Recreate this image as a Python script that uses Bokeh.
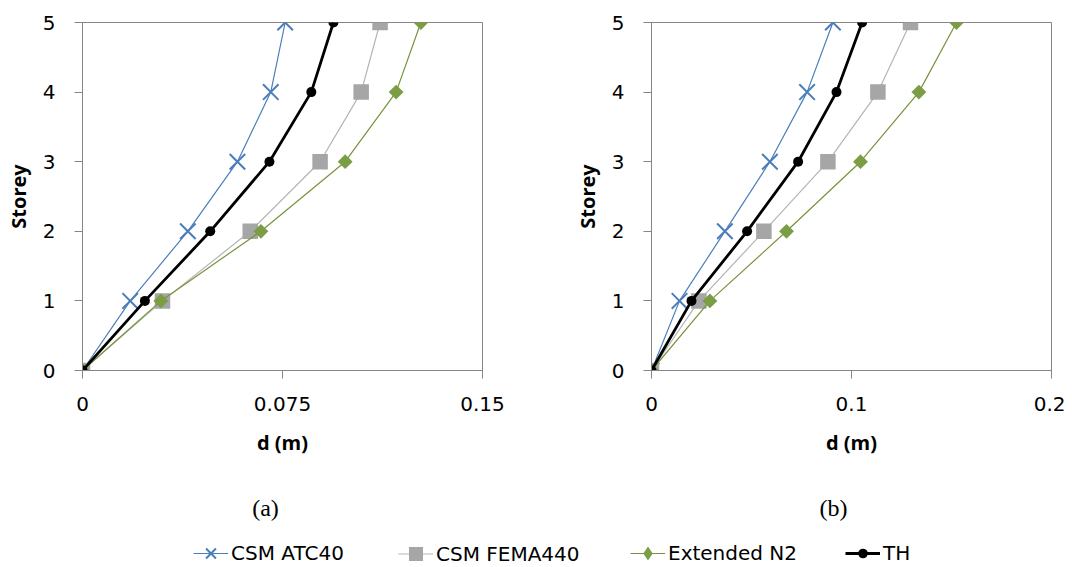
from bokeh.plotting import figure
from bokeh.models import Range1d, FixedTicker, CustomJSTickFormatter, Legend, LegendItem, Label
from bokeh.layouts import column, row
from bokeh.embed import file_html
from bokeh.resources import INLINE
import math

# ---------------- data ----------------
storeys = [0, 1, 2, 3, 4, 5]

a_atc40 = [0, 0.0179, 0.0395, 0.0581, 0.0706, 0.0760]
a_fema440 = [0, 0.0300, 0.0629, 0.0891, 0.1045, 0.1116]
a_n2 = [0, 0.0294, 0.0669, 0.0985, 0.1176, 0.1269]
a_th = [0, 0.0234, 0.0479, 0.0701, 0.0858, 0.0941]

b_atc40 = [0, 0.0140, 0.0367, 0.0592, 0.0778, 0.0907]
b_fema440 = [0, 0.0237, 0.0562, 0.0882, 0.1132, 0.1295]
b_n2 = [0, 0.0292, 0.0675, 0.1045, 0.1337, 0.1525]
b_th = [0, 0.0200, 0.0478, 0.0733, 0.0925, 0.1053]

a_xticks = [0, 0.075, 0.15]
b_xticks = [0, 0.1, 0.2]
y_ticks = [0, 1, 2, 3, 4, 5]

series_names = ["CSM ATC40", "CSM FEMA440", "Extended N2", "TH"]
captions = ["(a)", "(b)"]
x_label = "d (m)"
y_label = "Storey"

# ---------------- styles ----------------
TICK_FONT = "DejaVu Sans"
LABEL_FONT = "Open Sans"
AX = "#868686"
styles = [
    dict(lc="#4a7ebb", lw=1.2, marker="x", size=22, fill="#4a7ebb", mlc="#4a7ebb", mlw=2, angle=0,
         lmarker="x", lgh=40),
    dict(lc="#b4b4b4", lw=1.2, marker="square", size=15.5, fill="#a6a6a6", mlc=None, mlw=0, angle=0,
         lmarker="square", lgh=35),
    dict(lc="#77933c", lw=1.2, marker="square", size=10.5, fill="#7b9d44", mlc=None, mlw=0,
         angle=math.pi / 4, lmarker="diamond", lgh=36),
    dict(lc="black", lw=2.8, marker="circle", size=10, fill="black", mlc=None, mlw=0, angle=0,
         lmarker="circle", lgh=24),
]


def draw_series(p, xs, ys, st, marker=None):
    l = p.line(xs, ys, line_color=st["lc"], line_width=st["lw"])
    s = p.scatter(xs, ys, marker=marker or st["marker"], size=st["size"], fill_color=st["fill"],
                  line_color=st["mlc"], line_width=st["mlw"], angle=st["angle"])
    return l, s


def make_chart(series, xmax, xticks, mbl, mbr):
    p = figure(frame_width=400, frame_height=348, min_border_left=mbl, min_border_right=mbr,
               min_border_top=22, min_border_bottom=100,
               x_range=Range1d(0, xmax), y_range=Range1d(0, 5),
               output_backend="svg", toolbar_location=None)
    for xs, st in zip(series, styles):
        draw_series(p, xs, storeys, st)
    p.xaxis.ticker = FixedTicker(ticks=xticks)
    p.yaxis.ticker = FixedTicker(ticks=y_ticks)
    p.xaxis.formatter = CustomJSTickFormatter(code="return tick.toString()")
    p.xaxis.axis_label = x_label
    p.yaxis.axis_label = y_label
    for ax in (p.xaxis[0], p.yaxis[0]):
        ax.axis_line_color = AX
        ax.major_tick_line_color = AX
        ax.major_tick_in = 0
        ax.major_tick_out = 8
        ax.minor_tick_line_color = None
        ax.major_label_text_font = TICK_FONT
        ax.major_label_text_font_size = "20px"
        ax.major_label_text_color = "black"
        ax.axis_label_text_font = LABEL_FONT
        ax.axis_label_text_font_size = "20px"
        ax.axis_label_text_font_style = "bold"
        ax.axis_label_text_color = "black"
    p.yaxis.major_label_standoff = 19
    p.yaxis.axis_label_standoff = 8
    p.xaxis.major_label_standoff = 18
    p.xaxis.axis_label_standoff = 15
    p.grid.visible = False
    p.outline_line_color = AX
    p.outline_line_width = 1
    p.background_fill_color = "white"
    p.border_fill_color = "white"
    return p


p1 = make_chart([a_atc40, a_fema440, a_n2, a_th], 0.15, a_xticks, 82, 58)
p2 = make_chart([b_atc40, b_fema440, b_n2, b_th], 0.2, b_xticks, 111, 14)

# ---------------- captions + legend ----------------
BW, BH = 1065, 97
pb = figure(width=BW, height=BH, x_range=Range1d(0, BW), y_range=Range1d(0, BH),
            min_border=0, output_backend="svg", toolbar_location=None)
pb.axis.visible = False
pb.grid.visible = False
pb.outline_line_color = None

for txt, cx in zip(captions, [265, 833]):
    pb.add_layout(Label(x=cx, y=60, text=txt, text_align="center", text_baseline="middle",
                        text_font="Liberation Serif", text_font_size="24px", text_color="black"))

legend_x = [193, 398, 630, 845]
LEG_CY = 14  # legend centre, px above the bottom of the strip
for name, xs, st, lx in zip(series_names, [a_atc40, a_fema440, a_n2, a_th], styles, legend_x):
    l, s = draw_series(pb, xs, storeys, st, marker=st["lmarker"])
    l.visible = False
    s.visible = False
    leg = Legend(items=[LegendItem(label=name, renderers=[l, s])],
                 location=(lx, round(LEG_CY - st["lgh"] / 2)),
                 orientation="horizontal", padding=0, margin=0, spacing=0,
                 border_line_color=None, background_fill_alpha=0,
                 inactive_fill_alpha=0,
                 glyph_width=35, glyph_height=st["lgh"], label_standoff=3,
                 label_text_font=TICK_FONT, label_text_font_size="20px", label_text_color="black")
    pb.add_layout(leg)

layout = column(row(p1, p2), pb)
open("out.html", "w").write(file_html(layout, INLINE))
